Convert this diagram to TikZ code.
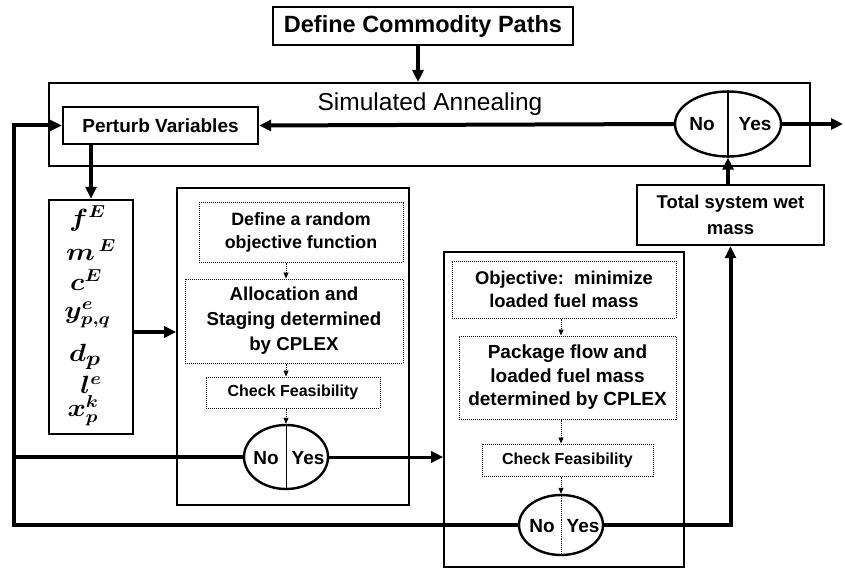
\documentclass[tikz,border=0pt]{standalone}
\usepackage{fontspec}
\setmainfont{Liberation Sans}
\usepackage{amsmath,bm,graphicx}
\usetikzlibrary{arrows.meta,shapes.geometric}

% one wide bold math symbol at a given size
\newcommand{\widevar}[2]{{\fontsize{#1}{30}\selectfont\scalebox{1.12}[1]{$\bm{#2}$}}}
% fixed baselines, however tall a line is
\newcommand{\rigidlines}{\lineskiplimit=-50pt\relax\lineskip=0pt\relax}

\begin{document}
\begin{tikzpicture}[x=1pt,y=-1pt,
  heavybox/.style={draw, line width=2.4pt, inner sep=0pt, align=center},
  outerbox/.style={draw, line width=1.6pt, inner sep=0pt},
  innerbox/.style={draw, densely dotted, line width=1pt, inner sep=0pt, align=center},
  decision/.style={draw, ellipse, line width=2.4pt, inner sep=0pt},
  flow/.style={line width=4pt, -{Triangle[length=12pt,width=11pt]}},
  bus/.style={line width=4pt},
  substep/.style={line width=0.9pt, densely dotted, -{Triangle[length=6pt,width=5pt]}},
  answer/.style={font=\bfseries\fontsize{19}{22}\selectfont, inner sep=0pt},
  varlist/.style={inner sep=0pt, align=center, font=\fontsize{24}{30}\selectfont}
]
\useasboundingbox (0,0) rectangle (845,569);

% top: commodity paths and the annealing loop
\node[heavybox, minimum width=300, minimum height=38,
      font=\bfseries\fontsize{23.5}{27}\selectfont] (dcp) at (423,26) {Define Commodity Paths};
\node[draw, line width=2pt, minimum width=761, minimum height=83, inner sep=0pt] (sa) at (429.5,124.5) {};
\node[font=\fontsize{24.5}{28}\selectfont, inner sep=0pt] (satitle) at (430,104) {Simulated Annealing};
\node[heavybox, minimum width=195, minimum height=37,
      font=\bfseries\fontsize{19}{22}\selectfont] (pv) at (160.5,125.5) {Perturb Variables};

\node[decision, minimum width=106, minimum height=65] (e1) at (728,124) {};
\draw[line width=1.6pt] (e1.north) -- (e1.south);
\node[answer] (e1no) at (702,124) {No};
\node[answer] (e1yes) at (755,124) {Yes};
\coordinate (out) at (843,124);

\node[heavybox, minimum width=187, minimum height=60,
      font=\bfseries\fontsize{18.5}{26}\selectfont] (tsm) at (730.5,215) {Total system wet\\mass};

% design variables
\node[draw, line width=2.4pt, minimum width=84, minimum height=234, inner sep=0pt] (vars) at (91,317) {};
\node[varlist] (vlist) at (87.5,316) {\rigidlines
  \widevar{24}{f^{E}}\\[4pt]
  \rule{7pt}{0pt}\widevar{23}{m^{\,E}}\\[0pt]
  \widevar{23}{c^{E}}\rule{3pt}{0pt}\\[-2pt]
  \widevar{24}{y^{e}_{p,q}}\\[13pt]
  \widevar{30}{d_{p}}\rule{5pt}{0pt}\\[2pt]
  \rule{7pt}{0pt}\widevar{23}{l^{e}}\\[-7pt]
  \widevar{24}{x^{k}_{p}}\rule{9pt}{0pt}};

% allocation and staging stage
\node[outerbox, minimum width=232, minimum height=317] (mid) at (293,346.5) {};
\node[innerbox, minimum width=204, minimum height=59,
      font=\bfseries\fontsize{17.8}{23}\selectfont] (db1) at (301,232.5) {Define a random\\objective function};
\node[innerbox, minimum width=218, minimum height=84,
      font=\bfseries\fontsize{18.7}{25}\selectfont] (db2) at (294,321) {Allocation and\\Staging determined\\by CPLEX};
\node[innerbox, minimum width=174, minimum height=31,
      font=\bfseries\fontsize{16}{19}\selectfont] (db3) at (293,392.5) {Check Feasibility};
\node[decision, minimum width=84, minimum height=64] (e2) at (286,457) {};
\draw[line width=0.9pt] (e2.north) -- (e2.south);
\node[answer] (e2no) at (266,458) {No};
\node[answer] (e2yes) at (308,458) {Yes};

% package flow stage
\node[outerbox, minimum width=240, minimum height=315] (rbox) at (564,409.5) {};
\node[innerbox, minimum width=224, minimum height=57,
      font=\bfseries\fontsize{18.4}{23}\selectfont] (ob1) at (564,289.5) {Objective:\ \ minimize\\loaded fuel mass};
\node[innerbox, minimum width=217, minimum height=83,
      font=\bfseries\fontsize{19}{23.5}\selectfont] (ob2) at (567.5,377.5) {Package flow and\\loaded fuel mass\\determined by CPLEX};
\node[innerbox, minimum width=171, minimum height=32,
      font=\bfseries\fontsize{16}{19}\selectfont] (ob3) at (567.5,460) {Check Feasibility};
\node[decision, minimum width=84, minimum height=60] (e3) at (561,525) {};
\draw[line width=0.9pt, densely dotted] (e3.north) -- (e3.south);
\node[answer] (e3no) at (542,526) {No};
\node[answer] (e3yes) at (583,526) {Yes};

% return rail on the left
\coordinate (railtop) at (14,124);
\coordinate (railbot) at (14,526);

% connectors
\draw[flow, line width=3.5pt] ([xshift=-5pt]dcp.south) -- ([xshift=-5pt]dcp.south |- sa.north);
\draw[flow] (e1.west) -- (pv.east);
\draw[flow] (e1.east) -- (out);
\draw[flow] (tsm.north -| e1.south) -- (e1.south);
\draw[flow] (pv.south -| vars.north) -- (vars.north);
\draw[flow] ([yshift=-15pt]vars.east) -- ([yshift=-15pt]vars.east -| mid.west);

\draw[substep] (db1.south -| e2.north) -- (db2.north -| e2.north);
\draw[substep] (db2.south -| e2.north) -- (db3.north -| e2.north);
\draw[substep] (db3.south -| e2.north) -- (e2.north);

\draw[substep] (ob1.south -| e3.north) -- (ob2.north -| e3.north);
\draw[substep] (ob2.south -| e3.north) -- (ob3.north -| e3.north);
\draw[substep] (ob3.south -| e3.north) -- (e3.north);

\draw[bus] (e2.west) -- (e2.west -| railbot);
\draw[flow, line width=3pt] (e2.east) -- (e2.east -| rbox.west);
\draw[flow] (e3.west) -- (e3.west -| railbot) -- (railtop |- pv.west) -- (pv.west);
\draw[flow] (e3.east) -- (e3.east -| tsm.south) -- (tsm.south);
\end{tikzpicture}
\end{document}
